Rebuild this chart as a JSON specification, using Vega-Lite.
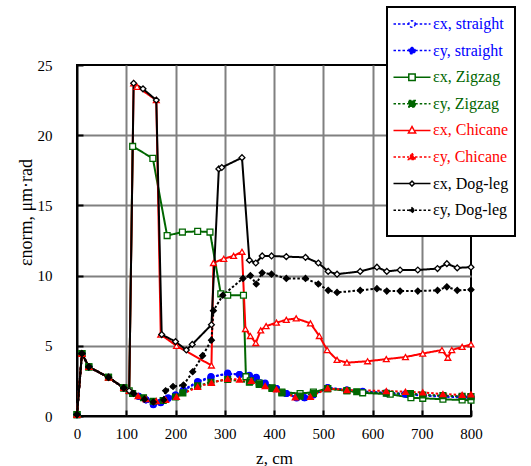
{
  "$schema": "https://vega.github.io/schema/vega-lite/v6.json",
  "width": 394,
  "height": 351,
  "autosize": "none",
  "padding": {"left": 77, "top": 65, "right": 60, "bottom": 50},
  "background": "white",
  "config": {
    "font": "Liberation Serif, Times New Roman, serif",
    "view": {"stroke": "black", "strokeWidth": 2},
    "legend": {
      "strokeWidth": 2, "orient": "none", "legendX": 310, "legendY": -58, "padding": 6,
      "strokeColor": "black", "fillColor": "white", "symbolSize": 400, "symbolStrokeWidth": 1.5,
      "symbolOffset": 8, "labelOffset": 10, "labelFont": "Liberation Serif, Times New Roman, serif",
      "labelFontSize": 16, "rowPadding": 7.6, "labelLimit": 300,
      "titleOrient": "bottom", "titleFontSize": 12, "titlePadding": 1
    },
    "axis": {
      "labelFont": "Liberation Serif, Times New Roman, serif",
      "titleFont": "Liberation Serif, Times New Roman, serif",
      "labelColor": "black",
      "titleColor": "black",
      "titleFontWeight": "normal",
      "domainColor": "black",
      "domainWidth": 2,
      "tickColor": "black",
      "tickWidth": 2,
      "tickSize": -6,
      "gridWidth": 2,
      "labelFlush": false
    }
  },
  "datasets": {
    "curves": [
      {"s": "εx, straight", "z": 0, "v": 0.1}, {"s": "εx, straight", "z": 10, "v": 4.45}, {"s": "εx, straight", "z": 24, "v": 3.5}, {"s": "εx, straight", "z": 64, "v": 2.75}, {"s": "εx, straight", "z": 95, "v": 2.0}, {"s": "εx, straight", "z": 113, "v": 1.6}, {"s": "εx, straight", "z": 125, "v": 1.4}, {"s": "εx, straight", "z": 140, "v": 1.15}, {"s": "εx, straight", "z": 155, "v": 0.85}, {"s": "εx, straight", "z": 170, "v": 1.0}, {"s": "εx, straight", "z": 185, "v": 1.3}, {"s": "εx, straight", "z": 200, "v": 1.5}, {"s": "εx, straight", "z": 216, "v": 1.85}, {"s": "εx, straight", "z": 245, "v": 2.45}, {"s": "εx, straight", "z": 272, "v": 2.8}, {"s": "εx, straight", "z": 306, "v": 3.0}, {"s": "εx, straight", "z": 330, "v": 2.95}, {"s": "εx, straight", "z": 350, "v": 2.9}, {"s": "εx, straight", "z": 364, "v": 2.75}, {"s": "εx, straight", "z": 382, "v": 2.35}, {"s": "εx, straight", "z": 405, "v": 1.95}, {"s": "εx, straight", "z": 425, "v": 1.6}, {"s": "εx, straight", "z": 446, "v": 1.32}, {"s": "εx, straight", "z": 462, "v": 1.3}, {"s": "εx, straight", "z": 480, "v": 1.5}, {"s": "εx, straight", "z": 509, "v": 2.0}, {"s": "εx, straight", "z": 548, "v": 1.85}, {"s": "εx, straight", "z": 580, "v": 1.72}, {"s": "εx, straight", "z": 628, "v": 1.62}, {"s": "εx, straight", "z": 667, "v": 1.55}, {"s": "εx, straight", "z": 702, "v": 1.45}, {"s": "εx, straight", "z": 743, "v": 1.38}, {"s": "εx, straight", "z": 782, "v": 1.32}, {"s": "εx, straight", "z": 800, "v": 1.3},

      {"s": "εy, straight", "z": 0, "v": 0.1}, {"s": "εy, straight", "z": 10, "v": 4.45}, {"s": "εy, straight", "z": 24, "v": 3.5}, {"s": "εy, straight", "z": 64, "v": 2.75}, {"s": "εy, straight", "z": 95, "v": 2.0}, {"s": "εy, straight", "z": 113, "v": 1.6}, {"s": "εy, straight", "z": 125, "v": 1.4}, {"s": "εy, straight", "z": 140, "v": 1.15}, {"s": "εy, straight", "z": 155, "v": 0.8}, {"s": "εy, straight", "z": 170, "v": 0.95}, {"s": "εy, straight", "z": 185, "v": 1.25}, {"s": "εy, straight", "z": 200, "v": 1.5}, {"s": "εy, straight", "z": 216, "v": 1.8}, {"s": "εy, straight", "z": 245, "v": 2.4}, {"s": "εy, straight", "z": 272, "v": 2.75}, {"s": "εy, straight", "z": 306, "v": 3.05}, {"s": "εy, straight", "z": 330, "v": 2.95}, {"s": "εy, straight", "z": 350, "v": 2.85}, {"s": "εy, straight", "z": 364, "v": 2.7}, {"s": "εy, straight", "z": 382, "v": 2.3}, {"s": "εy, straight", "z": 405, "v": 1.95}, {"s": "εy, straight", "z": 425, "v": 1.6}, {"s": "εy, straight", "z": 446, "v": 1.28}, {"s": "εy, straight", "z": 462, "v": 1.3}, {"s": "εy, straight", "z": 480, "v": 1.55}, {"s": "εy, straight", "z": 509, "v": 2.02}, {"s": "εy, straight", "z": 548, "v": 1.85}, {"s": "εy, straight", "z": 580, "v": 1.75}, {"s": "εy, straight", "z": 628, "v": 1.65}, {"s": "εy, straight", "z": 667, "v": 1.58}, {"s": "εy, straight", "z": 702, "v": 1.5}, {"s": "εy, straight", "z": 743, "v": 1.42}, {"s": "εy, straight", "z": 782, "v": 1.38}, {"s": "εy, straight", "z": 800, "v": 1.35},

      {"s": "εx, Zigzag", "z": 0, "v": 0.1}, {"s": "εx, Zigzag", "z": 10, "v": 4.45}, {"s": "εx, Zigzag", "z": 24, "v": 3.5}, {"s": "εx, Zigzag", "z": 64, "v": 2.75}, {"s": "εx, Zigzag", "z": 95, "v": 2.0}, {"s": "εx, Zigzag", "z": 106, "v": 1.8}, {"s": "εx, Zigzag", "z": 113, "v": 19.2}, {"s": "εx, Zigzag", "z": 154, "v": 18.35}, {"s": "εx, Zigzag", "z": 183, "v": 12.85}, {"s": "εx, Zigzag", "z": 214, "v": 13.1}, {"s": "εx, Zigzag", "z": 245, "v": 13.15}, {"s": "εx, Zigzag", "z": 270, "v": 13.1}, {"s": "εx, Zigzag", "z": 292, "v": 8.7}, {"s": "εx, Zigzag", "z": 306, "v": 8.6}, {"s": "εx, Zigzag", "z": 338, "v": 8.6}, {"s": "εx, Zigzag", "z": 343, "v": 2.8}, {"s": "εx, Zigzag", "z": 352, "v": 2.5}, {"s": "εx, Zigzag", "z": 370, "v": 2.35}, {"s": "εx, Zigzag", "z": 396, "v": 2.0}, {"s": "εx, Zigzag", "z": 416, "v": 1.7}, {"s": "εx, Zigzag", "z": 453, "v": 1.6}, {"s": "εx, Zigzag", "z": 480, "v": 1.7}, {"s": "εx, Zigzag", "z": 509, "v": 1.95}, {"s": "εx, Zigzag", "z": 548, "v": 1.8}, {"s": "εx, Zigzag", "z": 580, "v": 1.65}, {"s": "εx, Zigzag", "z": 636, "v": 1.55}, {"s": "εx, Zigzag", "z": 678, "v": 1.3}, {"s": "εx, Zigzag", "z": 702, "v": 1.26}, {"s": "εx, Zigzag", "z": 743, "v": 1.19}, {"s": "εx, Zigzag", "z": 782, "v": 1.14}, {"s": "εx, Zigzag", "z": 800, "v": 1.12},

      {"s": "εy, Zigzag", "z": 0, "v": 0.1}, {"s": "εy, Zigzag", "z": 10, "v": 4.45}, {"s": "εy, Zigzag", "z": 24, "v": 3.5}, {"s": "εy, Zigzag", "z": 64, "v": 2.75}, {"s": "εy, Zigzag", "z": 95, "v": 2.0}, {"s": "εy, Zigzag", "z": 113, "v": 1.6}, {"s": "εy, Zigzag", "z": 135, "v": 1.3}, {"s": "εy, Zigzag", "z": 155, "v": 1.05}, {"s": "εy, Zigzag", "z": 175, "v": 1.1}, {"s": "εy, Zigzag", "z": 200, "v": 1.35}, {"s": "εy, Zigzag", "z": 215, "v": 1.65}, {"s": "εy, Zigzag", "z": 245, "v": 2.15}, {"s": "εy, Zigzag", "z": 272, "v": 2.4}, {"s": "εy, Zigzag", "z": 306, "v": 2.6}, {"s": "εy, Zigzag", "z": 350, "v": 2.4}, {"s": "εy, Zigzag", "z": 370, "v": 2.25}, {"s": "εy, Zigzag", "z": 396, "v": 1.97}, {"s": "εy, Zigzag", "z": 416, "v": 1.65}, {"s": "εy, Zigzag", "z": 453, "v": 1.42}, {"s": "εy, Zigzag", "z": 480, "v": 1.6}, {"s": "εy, Zigzag", "z": 509, "v": 1.95}, {"s": "εy, Zigzag", "z": 548, "v": 1.8}, {"s": "εy, Zigzag", "z": 568, "v": 1.73}, {"s": "εy, Zigzag", "z": 628, "v": 1.62}, {"s": "εy, Zigzag", "z": 677, "v": 1.6}, {"s": "εy, Zigzag", "z": 702, "v": 1.5}, {"s": "εy, Zigzag", "z": 743, "v": 1.45}, {"s": "εy, Zigzag", "z": 782, "v": 1.4}, {"s": "εy, Zigzag", "z": 800, "v": 1.38},

      {"s": "εx, Chicane", "z": 0, "v": 0.1}, {"s": "εx, Chicane", "z": 10, "v": 4.45}, {"s": "εx, Chicane", "z": 24, "v": 3.5}, {"s": "εx, Chicane", "z": 64, "v": 2.75}, {"s": "εx, Chicane", "z": 95, "v": 2.0}, {"s": "εx, Chicane", "z": 106, "v": 1.8}, {"s": "εx, Chicane", "z": 115, "v": 23.7}, {"s": "εx, Chicane", "z": 122, "v": 23.45}, {"s": "εx, Chicane", "z": 161, "v": 22.5}, {"s": "εx, Chicane", "z": 170, "v": 5.8}, {"s": "εx, Chicane", "z": 202, "v": 5.0}, {"s": "εx, Chicane", "z": 273, "v": 3.6}, {"s": "εx, Chicane", "z": 277, "v": 10.9}, {"s": "εx, Chicane", "z": 298, "v": 11.2}, {"s": "εx, Chicane", "z": 318, "v": 11.4}, {"s": "εx, Chicane", "z": 335, "v": 11.7}, {"s": "εx, Chicane", "z": 342, "v": 6.2}, {"s": "εx, Chicane", "z": 352, "v": 5.7}, {"s": "εx, Chicane", "z": 363, "v": 5.2}, {"s": "εx, Chicane", "z": 373, "v": 6.1}, {"s": "εx, Chicane", "z": 384, "v": 6.4}, {"s": "εx, Chicane", "z": 405, "v": 6.65}, {"s": "εx, Chicane", "z": 425, "v": 6.85}, {"s": "εx, Chicane", "z": 445, "v": 6.95}, {"s": "εx, Chicane", "z": 474, "v": 6.6}, {"s": "εx, Chicane", "z": 492, "v": 5.7}, {"s": "εx, Chicane", "z": 508, "v": 4.7}, {"s": "εx, Chicane", "z": 528, "v": 4.0}, {"s": "εx, Chicane", "z": 548, "v": 3.8}, {"s": "εx, Chicane", "z": 590, "v": 3.9}, {"s": "εx, Chicane", "z": 628, "v": 4.05}, {"s": "εx, Chicane", "z": 667, "v": 4.2}, {"s": "εx, Chicane", "z": 702, "v": 4.45}, {"s": "εx, Chicane", "z": 741, "v": 4.7}, {"s": "εx, Chicane", "z": 753, "v": 4.15}, {"s": "εx, Chicane", "z": 761, "v": 4.7}, {"s": "εx, Chicane", "z": 782, "v": 4.92}, {"s": "εx, Chicane", "z": 800, "v": 5.1},

      {"s": "εy, Chicane", "z": 0, "v": 0.1}, {"s": "εy, Chicane", "z": 10, "v": 4.45}, {"s": "εy, Chicane", "z": 24, "v": 3.5}, {"s": "εy, Chicane", "z": 64, "v": 2.75}, {"s": "εy, Chicane", "z": 95, "v": 2.0}, {"s": "εy, Chicane", "z": 124, "v": 1.42}, {"s": "εy, Chicane", "z": 140, "v": 1.2}, {"s": "εy, Chicane", "z": 161, "v": 1.07}, {"s": "εy, Chicane", "z": 180, "v": 1.15}, {"s": "εy, Chicane", "z": 202, "v": 1.37}, {"s": "εy, Chicane", "z": 245, "v": 2.08}, {"s": "εy, Chicane", "z": 273, "v": 2.37}, {"s": "εy, Chicane", "z": 306, "v": 2.65}, {"s": "εy, Chicane", "z": 330, "v": 2.6}, {"s": "εy, Chicane", "z": 354, "v": 2.5}, {"s": "εy, Chicane", "z": 382, "v": 2.13}, {"s": "εy, Chicane", "z": 405, "v": 1.9}, {"s": "εy, Chicane", "z": 443, "v": 1.33}, {"s": "εy, Chicane", "z": 474, "v": 1.37}, {"s": "εy, Chicane", "z": 509, "v": 1.97}, {"s": "εy, Chicane", "z": 548, "v": 1.85}, {"s": "εy, Chicane", "z": 628, "v": 1.78}, {"s": "εy, Chicane", "z": 667, "v": 1.73}, {"s": "εy, Chicane", "z": 702, "v": 1.68}, {"s": "εy, Chicane", "z": 743, "v": 1.56}, {"s": "εy, Chicane", "z": 782, "v": 1.5}, {"s": "εy, Chicane", "z": 800, "v": 1.55},

      {"s": "εx, Dog-leg", "z": 0, "v": 0.1}, {"s": "εx, Dog-leg", "z": 10, "v": 4.45}, {"s": "εx, Dog-leg", "z": 24, "v": 3.5}, {"s": "εx, Dog-leg", "z": 64, "v": 2.75}, {"s": "εx, Dog-leg", "z": 95, "v": 2.0}, {"s": "εx, Dog-leg", "z": 106, "v": 1.8}, {"s": "εx, Dog-leg", "z": 115, "v": 23.7}, {"s": "εx, Dog-leg", "z": 134, "v": 23.3}, {"s": "εx, Dog-leg", "z": 161, "v": 22.5}, {"s": "εx, Dog-leg", "z": 172, "v": 5.8}, {"s": "εx, Dog-leg", "z": 200, "v": 5.3}, {"s": "εx, Dog-leg", "z": 222, "v": 4.7}, {"s": "εx, Dog-leg", "z": 234, "v": 5.1}, {"s": "εx, Dog-leg", "z": 273, "v": 6.5}, {"s": "εx, Dog-leg", "z": 288, "v": 17.6}, {"s": "εx, Dog-leg", "z": 294, "v": 17.7}, {"s": "εx, Dog-leg", "z": 335, "v": 18.4}, {"s": "εx, Dog-leg", "z": 350, "v": 11.1}, {"s": "εx, Dog-leg", "z": 363, "v": 10.9}, {"s": "εx, Dog-leg", "z": 376, "v": 11.4}, {"s": "εx, Dog-leg", "z": 395, "v": 11.4}, {"s": "εx, Dog-leg", "z": 425, "v": 11.35}, {"s": "εx, Dog-leg", "z": 464, "v": 11.3}, {"s": "εx, Dog-leg", "z": 490, "v": 10.9}, {"s": "εx, Dog-leg", "z": 510, "v": 10.3}, {"s": "εx, Dog-leg", "z": 528, "v": 10.1}, {"s": "εx, Dog-leg", "z": 575, "v": 10.3}, {"s": "εx, Dog-leg", "z": 609, "v": 10.6}, {"s": "εx, Dog-leg", "z": 629, "v": 10.3}, {"s": "εx, Dog-leg", "z": 656, "v": 10.4}, {"s": "εx, Dog-leg", "z": 692, "v": 10.4}, {"s": "εx, Dog-leg", "z": 732, "v": 10.5}, {"s": "εx, Dog-leg", "z": 751, "v": 10.85}, {"s": "εx, Dog-leg", "z": 772, "v": 10.55}, {"s": "εx, Dog-leg", "z": 800, "v": 10.6},

      {"s": "εy, Dog-leg", "z": 0, "v": 0.1}, {"s": "εy, Dog-leg", "z": 10, "v": 4.45}, {"s": "εy, Dog-leg", "z": 24, "v": 3.5}, {"s": "εy, Dog-leg", "z": 64, "v": 2.75}, {"s": "εy, Dog-leg", "z": 95, "v": 2.0}, {"s": "εy, Dog-leg", "z": 115, "v": 1.6}, {"s": "εy, Dog-leg", "z": 137, "v": 1.2}, {"s": "εy, Dog-leg", "z": 155, "v": 1.0}, {"s": "εy, Dog-leg", "z": 176, "v": 1.15}, {"s": "εy, Dog-leg", "z": 180, "v": 1.8}, {"s": "εy, Dog-leg", "z": 195, "v": 2.1}, {"s": "εy, Dog-leg", "z": 216, "v": 2.2}, {"s": "εy, Dog-leg", "z": 235, "v": 3.15}, {"s": "εy, Dog-leg", "z": 255, "v": 4.3}, {"s": "εy, Dog-leg", "z": 273, "v": 5.4}, {"s": "εy, Dog-leg", "z": 277, "v": 7.5}, {"s": "εy, Dog-leg", "z": 296, "v": 8.6}, {"s": "εy, Dog-leg", "z": 337, "v": 9.8}, {"s": "εy, Dog-leg", "z": 352, "v": 10.0}, {"s": "εy, Dog-leg", "z": 364, "v": 9.4}, {"s": "εy, Dog-leg", "z": 376, "v": 10.2}, {"s": "εy, Dog-leg", "z": 395, "v": 10.1}, {"s": "εy, Dog-leg", "z": 425, "v": 9.8}, {"s": "εy, Dog-leg", "z": 464, "v": 9.8}, {"s": "εy, Dog-leg", "z": 490, "v": 9.4}, {"s": "εy, Dog-leg", "z": 510, "v": 8.95}, {"s": "εy, Dog-leg", "z": 528, "v": 8.8}, {"s": "εy, Dog-leg", "z": 575, "v": 8.95}, {"s": "εy, Dog-leg", "z": 609, "v": 9.07}, {"s": "εy, Dog-leg", "z": 629, "v": 8.9}, {"s": "εy, Dog-leg", "z": 656, "v": 8.9}, {"s": "εy, Dog-leg", "z": 692, "v": 8.9}, {"s": "εy, Dog-leg", "z": 732, "v": 8.95}, {"s": "εy, Dog-leg", "z": 751, "v": 9.2}, {"s": "εy, Dog-leg", "z": 772, "v": 8.95}, {"s": "εy, Dog-leg", "z": 800, "v": 9.0}
    ]
  },
  "data": {"name": "curves"},
  "encoding": {
    "x": {
      "field": "z", "type": "quantitative",
      "scale": {"domain": [0, 800], "nice": false},
      "axis": {
        "title": "z, cm", "values": [0, 100, 200, 300, 400, 500, 600, 700, 800],
        "labelFontSize": 15, "titleFontSize": 17, "labelPadding": 16, "titlePadding": 9,
        "gridColor": {"condition": {"test": "datum.value === 0 || datum.value === 800", "value": "transparent"}, "value": "#808080"}
      }
    },
    "y": {
      "field": "v", "type": "quantitative",
      "scale": {"domain": [0, 25], "nice": false},
      "axis": {
        "title": "εnorm, μm·rad", "values": [0, 5, 10, 15, 20, 25],
        "labelFontSize": 15, "titleFontSize": 18, "labelPadding": 31, "titlePadding": 2, "titleY": 147,
        "gridColor": {"condition": {"test": "datum.value === 0 || datum.value === 25", "value": "transparent"}, "value": "#808080"}
      }
    }
  },
  "layer": [
    {
      "mark": {"type": "line", "strokeWidth": 2},
      "encoding": {
        "stroke": {"field": "s", "type": "nominal", "legend": null,
          "scale": {"domain": ["εx, straight", "εy, straight", "εx, Zigzag", "εy, Zigzag", "εx, Chicane", "εy, Chicane", "εx, Dog-leg", "εy, Dog-leg"],
                    "range": ["#0000ff", "#0000ff", "#006600", "#006600", "#ff0000", "#ff0000", "#000000", "#000000"]}},
        "strokeDash": {"field": "s", "type": "nominal", "legend": null,
          "scale": {"domain": ["εx, straight", "εy, straight", "εx, Zigzag", "εy, Zigzag", "εx, Chicane", "εy, Chicane", "εx, Dog-leg", "εy, Dog-leg"],
                    "range": [[2.5, 2], [2.5, 2], [1, 0], [2.5, 2], [1, 0], [2.5, 2], [1, 0], [2.5, 2]]}}
      }
    },
    {
      "mark": {"type": "point", "opacity": 1, "strokeWidth": 1.3, "size": 34},
      "encoding": {
        "stroke": {"field": "s", "type": "nominal", "legend": null,
          "scale": {"domain": ["εx, straight", "εy, straight", "εx, Zigzag", "εy, Zigzag", "εx, Chicane", "εy, Chicane", "εx, Dog-leg", "εy, Dog-leg"],
                    "range": ["#0000ff", "#0000ff", "#006600", "#006600", "#ff0000", "#ff0000", "#000000", "#000000"]}},
        "fill": {"field": "s", "type": "nominal", "legend": null,
          "scale": {"domain": ["εx, straight", "εy, straight", "εx, Zigzag", "εy, Zigzag", "εx, Chicane", "εy, Chicane", "εx, Dog-leg", "εy, Dog-leg"],
                    "range": ["white", "#0000ff", "white", "#006600", "white", "#ff0000", "white", "#000000"]}},
        "shape": {"field": "s", "type": "nominal", "legend": null,
          "scale": {"domain": ["εx, straight", "εy, straight", "εx, Zigzag", "εy, Zigzag", "εx, Chicane", "εy, Chicane", "εx, Dog-leg", "εy, Dog-leg"],
                    "range": ["circle", "circle", "square", "square", "triangle-up", "triangle-up", "diamond", "diamond"]}}
      }
    },
    {
      "transform": [{"filter": "false"}],
      "mark": {"type": "point", "opacity": 1, "strokeWidth": 1.5, "size": 400},
      "encoding": {
        "stroke": {"field": "s", "type": "nominal",
          "scale": {"domain": ["εx, straight", "εy, straight", "εx, Zigzag", "εy, Zigzag", "εx, Chicane", "εy, Chicane", "εx, Dog-leg", "εy, Dog-leg"],
                    "range": ["#0000ff", "#0000ff", "#006600", "#006600", "#ff0000", "#ff0000", "#000000", "#000000"]},
          "legend": {"title": " ",
            "labelColor": {"expr": "indexof(datum.label, 'straight') >= 0 ? '#0000ff' : indexof(datum.label, 'Zigzag') >= 0 ? '#006600' : indexof(datum.label, 'Chicane') >= 0 ? '#ff0000' : '#000000'"}}},
        "fill": {"field": "s", "type": "nominal",
          "scale": {"domain": ["εx, straight", "εy, straight", "εx, Zigzag", "εy, Zigzag", "εx, Chicane", "εy, Chicane", "εx, Dog-leg", "εy, Dog-leg"],
                    "range": ["white", "#0000ff", "white", "#006600", "white", "#ff0000", "white", "#000000"]},
          "legend": {"title": " ",
            "labelColor": {"expr": "indexof(datum.label, 'straight') >= 0 ? '#0000ff' : indexof(datum.label, 'Zigzag') >= 0 ? '#006600' : indexof(datum.label, 'Chicane') >= 0 ? '#ff0000' : '#000000'"}}},
        "shape": {"field": "s", "type": "nominal",
          "scale": {"domain": ["εx, straight", "εy, straight", "εx, Zigzag", "εy, Zigzag", "εx, Chicane", "εy, Chicane", "εx, Dog-leg", "εy, Dog-leg"],
                    "range": [
                      "M-1.85,0L-0.32,0M0.32,0L1.85,0M0.32,0A0.32,0.32,0,1,1,-0.32,0A0.32,0.32,0,1,1,0.32,0Z",
                      "M-1.85,0L-0.32,0M0.32,0L1.85,0M0.32,0A0.32,0.32,0,1,1,-0.32,0A0.32,0.32,0,1,1,0.32,0Z",
                      "M-1.85,0L-0.32,0M0.32,0L1.85,0M-0.32,-0.32L0.32,-0.32L0.32,0.32L-0.32,0.32Z",
                      "M-1.85,0L-0.32,0M0.32,0L1.85,0M-0.32,-0.32L0.32,-0.32L0.32,0.32L-0.32,0.32Z",
                      "M-1.85,0L-0.3,0M0.3,0L1.85,0M0,-0.38L0.36,0.26L-0.36,0.26Z",
                      "M-1.85,0L-0.3,0M0.3,0L1.85,0M0,-0.38L0.36,0.26L-0.36,0.26Z",
                      "M-1.85,0L-0.25,0M0.25,0L1.85,0M0,-0.25L0.25,0L0,0.25L-0.25,0Z",
                      "M-1.85,0L-0.25,0M0.25,0L1.85,0M0,-0.25L0.25,0L0,0.25L-0.25,0Z"
                    ]},
          "legend": {"title": " ",
            "labelColor": {"expr": "indexof(datum.label, 'straight') >= 0 ? '#0000ff' : indexof(datum.label, 'Zigzag') >= 0 ? '#006600' : indexof(datum.label, 'Chicane') >= 0 ? '#ff0000' : '#000000'"}}},
        "strokeDash": {"field": "s", "type": "nominal",
          "scale": {"domain": ["εx, straight", "εy, straight", "εx, Zigzag", "εy, Zigzag", "εx, Chicane", "εy, Chicane", "εx, Dog-leg", "εy, Dog-leg"],
                    "range": [[2.5, 2], [2.5, 2], [1, 0], [2.5, 2], [1, 0], [2.5, 2], [1, 0], [2.5, 2]]},
          "legend": {"title": " ",
            "labelColor": {"expr": "indexof(datum.label, 'straight') >= 0 ? '#0000ff' : indexof(datum.label, 'Zigzag') >= 0 ? '#006600' : indexof(datum.label, 'Chicane') >= 0 ? '#ff0000' : '#000000'"}}}
      }
    }
  ],
  "resolve": {"scale": {"stroke": "independent", "fill": "independent", "shape": "independent", "strokeDash": "independent"}}
}
